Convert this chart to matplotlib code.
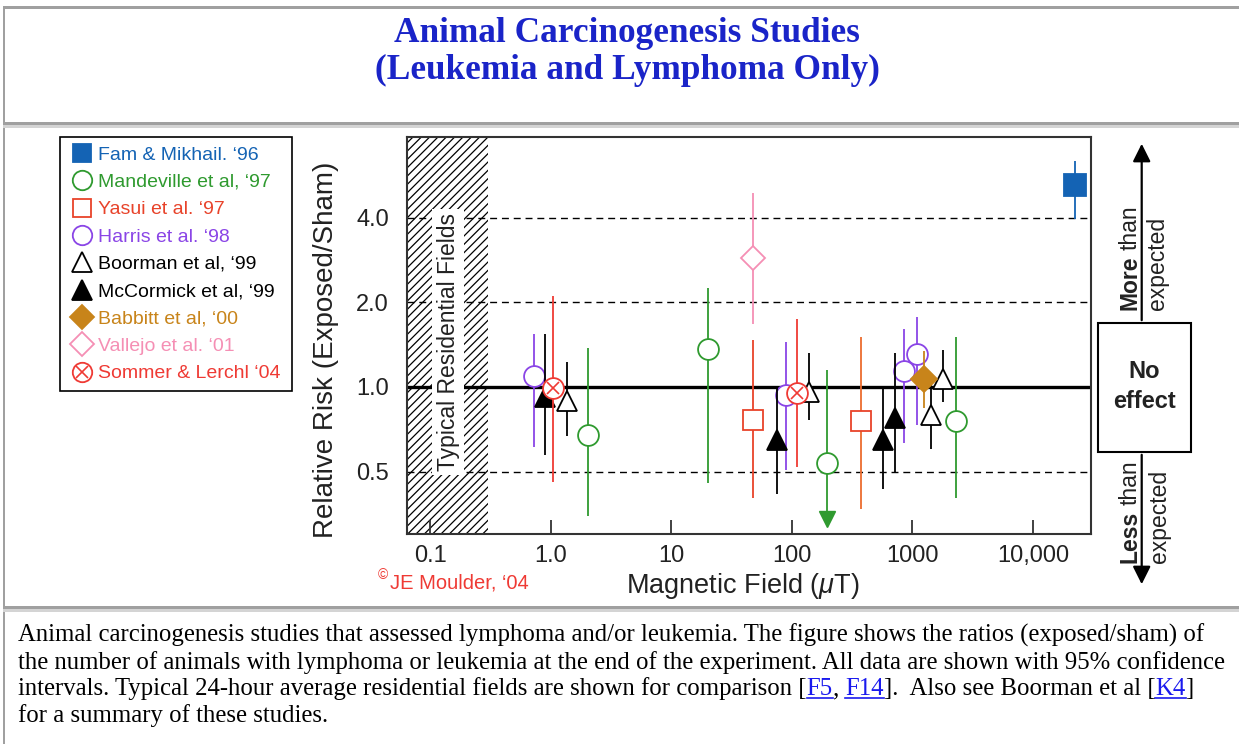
import numpy as np
import matplotlib.pyplot as plt
from matplotlib.patches import Rectangle, FancyArrowPatch
from matplotlib.lines import Line2D
from matplotlib.legend_handler import HandlerTuple
from matplotlib.ticker import NullLocator

W, H = 1239, 744
plt.rcParams['font.family'] = ['Liberation Sans', 'DejaVu Sans']
plt.rcParams['hatch.linewidth'] = 0.9
plt.rcParams['mathtext.fontset'] = 'custom'
plt.rcParams['mathtext.it'] = 'Liberation Sans:italic'
plt.rcParams['mathtext.rm'] = 'Liberation Sans'

# values: field (uT), risk ratio, 95% CI (low, high)
fam_field = [22400]
fam_rr = [5.24]
fam_ci = [(3.96, 6.37)]

mand_field = [2.05, 20.3, 195, 2310]
mand_rr = [0.676, 1.36, 0.537, 0.754]
mand_ci = [(0.347, 1.375), (0.454, 2.24), (0.36, 1.15), (0.404, 1.51)]
mand_arrow_field = [195]   # lower limit off scale
mand_arrow_rr = [0.339]

yasui_field = [47.5, 376]
yasui_rr = [0.764, 0.754]
yasui_ci = [(0.404, 1.47), (0.367, 1.51)]

harris_field = [0.73, 89.7, 855, 1090]
harris_rr = [1.09, 0.937, 1.14, 1.31]
harris_ci = [(0.61, 1.54), (0.508, 1.45), (0.63, 1.61), (0.73, 1.77)]

boorman_field = [1.37, 140, 1430, 1810]
boorman_rr = [0.894, 0.96, 0.796, 1.07]
boorman_ci = [(0.667, 1.23), (0.76, 1.32), (0.60, 1.07), (0.887, 1.35)]

mccormick_field = [0.90, 76, 576, 720]
mccormick_rr = [0.92, 0.65, 0.65, 0.775]
mccormick_ci = [(0.574, 1.54), (0.415, 1.0), (0.432, 1.0), (0.50, 1.32)]

babbitt_field = [1237]
babbitt_rr = [1.07]
babbitt_ci = [(0.84, 1.34)]

vallejo_field = [48]
vallejo_rr = [2.87]
vallejo_ci = [(1.68, 4.88)]

sommer_field = [1.05, 110]
sommer_rr = [0.99, 0.95]
sommer_ci = [(0.46, 2.1), (0.52, 1.75)]

labels = ['Fam & Mikhail. \u201896', 'Mandeville et al, \u201897', 'Yasui et al. \u201897',
          'Harris et al. \u201898', 'Boorman et al, \u201899', 'McCormick et al, \u201899',
          'Babbitt et al, \u201800', 'Vallejo et al. \u201801', 'Sommer & Lerchl \u201804']

ytick_vals = [0.5, 1.0, 2.0, 4.0]
ytick_labels = ['0.5', '1.0', '2.0', '4.0']
xtick_vals = [0.1, 1, 10, 100, 1000, 10000]
xtick_labels = ['0.1', '1.0', '10', '100', '1000', '10,000']

BLUE = '#1463b4'
GREEN = '#2f9a2f'
RED = '#e8432a'
PURPLE = '#8a45e6'
GOLD = '#c8841a'
PINK = '#f58fb4'
SRED = '#ef3a34'
TXT = '#222222'


def px(x, y):
    return (x / W, 1 - y / H)


fig = plt.figure(figsize=(W / 100, H / 100), dpi=100)
ax = fig.add_axes([407 / W, 1 - 534 / H, 684 / W, 397 / H])
ax.set_xscale('log')
ax.set_yscale('log')
ax.set_xlim(0.0644, 30300)
ax.set_ylim(0.30, 7.74)

# shaded residential field band
ax.axvspan(ax.get_xlim()[0], 0.3, facecolor='white', edgecolor='black',
           hatch='////', lw=0, zorder=1)
for v in [0.5, 2.0, 4.0]:
    ax.axhline(v, color='black', lw=1.0, ls=(0, (5, 3.5)), zorder=1.5)
ax.axhline(1.0, color='black', lw=2.4, zorder=2)
ax.text(0.06, 0.4836, 'Typical Residential Fields', rotation=90, transform=ax.transAxes,
        ha='center', va='center', fontsize=16.5, color=TXT,
        bbox=dict(facecolor='white', edgecolor='none', pad=3), zorder=2.5)

z = [3.0]


def draw(fields, rr, ci, marker, color, ms, filled, barcolors=None):
    for i, (x, r, (lo, hi)) in enumerate(zip(fields, rr, ci)):
        bc = barcolors[i] if barcolors else color
        ax.plot([x, x], [lo, hi], color=bc, lw=1.3, zorder=z[0], solid_capstyle='butt')
        ax.plot([x], [r], marker=marker, ms=ms, ls='none', mec=color,
                mfc=color if filled else 'white', mew=1.3, zorder=z[0] + 0.05)
    z[0] += 0.1


draw(fam_field, fam_rr, fam_ci, 's', BLUE, 16, True)
draw(mand_field, mand_rr, mand_ci, 'o', GREEN, 15, False)
ax.plot(mand_arrow_field, mand_arrow_rr, marker='v', ms=11, ls='none', color=GREEN, zorder=3.2)
draw(yasui_field, yasui_rr, yasui_ci, 's', RED, 15, False, barcolors=[RED, '#ec6c2e'])
draw(harris_field, harris_rr, harris_ci, 'o', PURPLE, 15, False)
draw(boorman_field, boorman_rr, boorman_ci, '^', 'black', 15, False)
draw(mccormick_field, mccormick_rr, mccormick_ci, '^', 'black', 15, True)
draw(babbitt_field, babbitt_rr, babbitt_ci, 'D', GOLD, 13.5, True)
draw(vallejo_field, vallejo_rr, vallejo_ci, 'D', PINK, 12.5, False)
draw(sommer_field, sommer_rr, sommer_ci, 'o', SRED, 15, False)
ax.plot(sommer_field, sommer_rr, marker='x', ms=8, mew=1.2, ls='none', color=SRED, zorder=z[0])

ax.set_xticks(xtick_vals, xtick_labels)
ax.set_yticks(ytick_vals, ytick_labels)
ax.xaxis.set_minor_locator(NullLocator())
ax.yaxis.set_minor_locator(NullLocator())
ax.tick_params(axis='x', direction='in', length=10, width=1.3, pad=8,
               labelsize=17, labelcolor=TXT, color='#333333')
ax.tick_params(axis='y', direction='in', length=0, pad=13,
               labelsize=17, labelcolor=TXT)
for s in ax.spines.values():
    s.set_linewidth(1.5)
    s.set_color('#333333')
    s.set_zorder(5)

ax.set_ylabel('Relative Risk (Exposed/Sham)', fontsize=20, color=TXT)
ax.yaxis.set_label_coords(-0.099, 0.463)
ax.set_xlabel('Magnetic Field ($\\mu$T)', fontsize=19.5, color=TXT)
ax.xaxis.set_label_coords(0.4905, -0.093)

fig.text(*px(390, 583), 'JE Moulder, \u201804', color=SRED, fontsize=14.5, ha='left', va='center')
fig.text(*px(383, 575), '\u00a9', color=SRED, fontsize=10, ha='center', va='center')

# legend
def mk(marker, color, filled, ms):
    return Line2D([], [], marker=marker, ls='none', ms=ms, mec=color,
                  mfc=color if filled else 'white', mew=1.3)

handles = [mk('s', BLUE, True, 13), mk('o', GREEN, False, 14), mk('s', RED, False, 13),
           mk('o', PURPLE, False, 14), mk('^', 'black', False, 15), mk('^', 'black', True, 15),
           mk('D', GOLD, True, 12), mk('D', PINK, False, 12),
           (mk('o', SRED, False, 14), Line2D([], [], marker='x', ls='none', ms=8, mew=1.2, color=SRED))]
text_colors = [BLUE, GREEN, RED, PURPLE, 'black', 'black', GOLD, PINK, SRED]
x0, y0 = px(60, 396.7)
leg = fig.legend(handles, labels, loc='upper left', bbox_to_anchor=(x0, y0, 232 / W, 259.4 / H),
                 mode='expand', borderaxespad=0, fancybox=False, framealpha=1,
                 edgecolor='black', prop={'size': 14}, labelspacing=0.50, borderpad=0.45,
                 handlelength=1.4, handletextpad=0.08,
                 handler_map={tuple: HandlerTuple(ndivide=1, pad=0)})
leg.get_frame().set_linewidth(1.2)
for t, c in zip(leg.get_texts(), text_colors):
    t.set_color(c)

# right hand annotation
fig.add_artist(FancyArrowPatch(px(1141.7, 323), px(1141.7, 141), transform=fig.transFigure,
                               arrowstyle='-|>', mutation_scale=27, lw=1.6, color='black'))
fig.add_artist(FancyArrowPatch(px(1141.7, 452), px(1141.7, 587), transform=fig.transFigure,
                               arrowstyle='-|>', mutation_scale=27, lw=1.6, color='black'))
bx, by = px(1098, 452)
fig.add_artist(Rectangle((bx, by), 93 / W, 129 / H, transform=fig.transFigure,
                         facecolor='white', edgecolor='black', lw=1.5))
fig.text(*px(1144, 371), 'No', fontsize=17, fontweight='bold', ha='center', va='center', color=TXT)
fig.text(*px(1144, 401), 'effect', fontsize=17, fontweight='bold', ha='center', va='center', color=TXT)

t1 = fig.text(*px(1130, 310), 'More', rotation=90, fontsize=16.5, fontweight='bold',
              ha='center', va='bottom', color=TXT)
fig.add_artist(plt.Annotation('than', xy=(0.5, 1), xycoords=t1, xytext=(0, 4),
                              textcoords='offset points', rotation=90, fontsize=16.5,
                              ha='center', va='bottom', color=TXT))
fig.text(*px(1158, 310), 'expected', rotation=90, fontsize=16.5, ha='center', va='bottom', color=TXT)
t2 = fig.text(*px(1130, 563), 'Less', rotation=90, fontsize=16.5, fontweight='bold',
              ha='center', va='bottom', color=TXT)
fig.add_artist(plt.Annotation('than', xy=(0.5, 1), xycoords=t2, xytext=(0, 4),
                              textcoords='offset points', rotation=90, fontsize=16.5,
                              ha='center', va='bottom', color=TXT))
fig.text(*px(1160, 563), 'expected', rotation=90, fontsize=16.5, ha='center', va='bottom', color=TXT)

# page frame (table borders)
def band(x, y, w, h, c):
    fig.add_artist(Rectangle(px(x, y + h), w / W, h / H, transform=fig.transFigure,
                             facecolor=c, edgecolor='none', zorder=10))

band(3, 6, W, 2.5, '#a0a0a0')
band(3, 6, 2.5, H, '#a0a0a0')
band(3, 122, W, 2.5, '#a0a0a0')
band(3, 124.5, W, 3, '#d4d4d4')
band(3, 606, W, 2.5, '#a0a0a0')
band(3, 608.5, W, 3, '#d4d4d4')

# title
TBLUE = '#1a24c8'
fig.text(*px(627, 42), 'Animal Carcinogenesis Studies', ha='center', va='baseline',
         fontsize=25.4, fontweight='bold', family='Liberation Serif', color=TBLUE)
fig.text(*px(627, 79), '(Leukemia and Lymphoma Only)', ha='center', va='baseline',
         fontsize=25.4, fontweight='bold', family='Liberation Serif', color=TBLUE)

# caption
cap_size = 17.8
LINK = '#1a1aee'
lines = [
    [('Animal carcinogenesis studies that assessed lymphoma and/or leukemia. The figure shows the ratios (exposed/sham) of', False)],
    [('the number of animals with lymphoma or leukemia at the end of the experiment. All data are shown with 95% confidence', False)],
    [('intervals. Typical 24-hour average residential fields are shown for comparison [', False), ('F5', True),
     (', ', False), ('F14', True), ('].  Also see Boorman et al [', False), ('K4', True), (']', False)],
    [('for a summary of these studies.', False)],
]
baselines = [642, 669, 695, 722]
fig.canvas.draw()
rend = fig.canvas.get_renderer()


def width(s):
    t = fig.text(0, 0, s, fontsize=cap_size, family='Liberation Serif')
    w = t.get_window_extent(rend).width
    t.remove()
    return w

bar_w = width('|')
for parts, yb in zip(lines, baselines):
    prefix = ''
    for s, link in parts:
        xs = 18 + (width(prefix + '|') - bar_w if prefix else 0)
        t = fig.text(*px(xs, yb), s, fontsize=cap_size, family='Liberation Serif',
                     va='baseline', ha='left', color=LINK if link else 'black')
        if link:
            w = width(s)
            fig.add_artist(Line2D([xs / W, (xs + w) / W], [1 - (yb + 2.5) / H] * 2,
                                  transform=fig.transFigure, color=LINK, lw=1.2))
        prefix += s

fig.savefig('out.png', dpi=100)
